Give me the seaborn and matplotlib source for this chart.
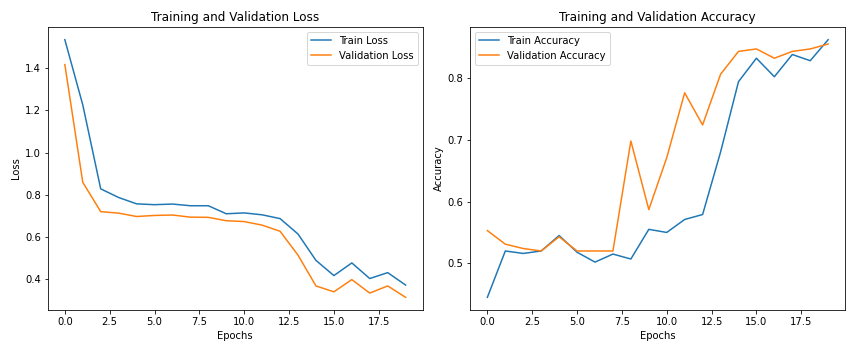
import numpy as np
import pandas as pd
import seaborn as sns
import matplotlib
matplotlib.use("Agg")
import matplotlib.pyplot as plt

epochs = list(range(20))
train_loss = [1.535, 1.226, 0.828, 0.787, 0.757, 0.753, 0.756, 0.748, 0.748, 0.710,
              0.714, 0.705, 0.687, 0.614, 0.489, 0.417, 0.477, 0.403, 0.431, 0.372]
val_loss = [1.417, 0.859, 0.720, 0.713, 0.697, 0.702, 0.704, 0.694, 0.693, 0.677,
            0.673, 0.656, 0.627, 0.514, 0.368, 0.340, 0.398, 0.334, 0.368, 0.314]
train_acc = [0.445, 0.520, 0.516, 0.520, 0.545, 0.518, 0.502, 0.515, 0.507, 0.555,
             0.550, 0.571, 0.579, 0.680, 0.794, 0.832, 0.802, 0.838, 0.828, 0.862]
val_acc = [0.553, 0.531, 0.524, 0.520, 0.543, 0.520, 0.520, 0.520, 0.698, 0.587,
           0.671, 0.776, 0.724, 0.806, 0.843, 0.847, 0.832, 0.843, 0.847, 0.855]

plt.rcParams['font.family'] = ['DejaVu Sans']

fig, axes = plt.subplots(1, 2, figsize=(856 / 72, 352 / 72), dpi=72)

# Loss
ax = axes[0]
sns.lineplot(x=epochs, y=train_loss, ax=ax, label='Train Loss', color='#1f77b4')
sns.lineplot(x=epochs, y=val_loss, ax=ax, label='Validation Loss', color='#ff7f0e')
ax.set_title('Training and Validation Loss')
ax.set_xlabel('Epochs')
ax.set_ylabel('Loss')
ax.legend(loc='upper right')

# Accuracy
ax = axes[1]
sns.lineplot(x=epochs, y=train_acc, ax=ax, label='Train Accuracy', color='#1f77b4')
sns.lineplot(x=epochs, y=val_acc, ax=ax, label='Validation Accuracy', color='#ff7f0e')
ax.set_title('Training and Validation Accuracy')
ax.set_xlabel('Epochs')
ax.set_ylabel('Accuracy')
ax.legend(loc='upper left')

plt.tight_layout()
plt.savefig('out.png', dpi=72)
plt.close()
